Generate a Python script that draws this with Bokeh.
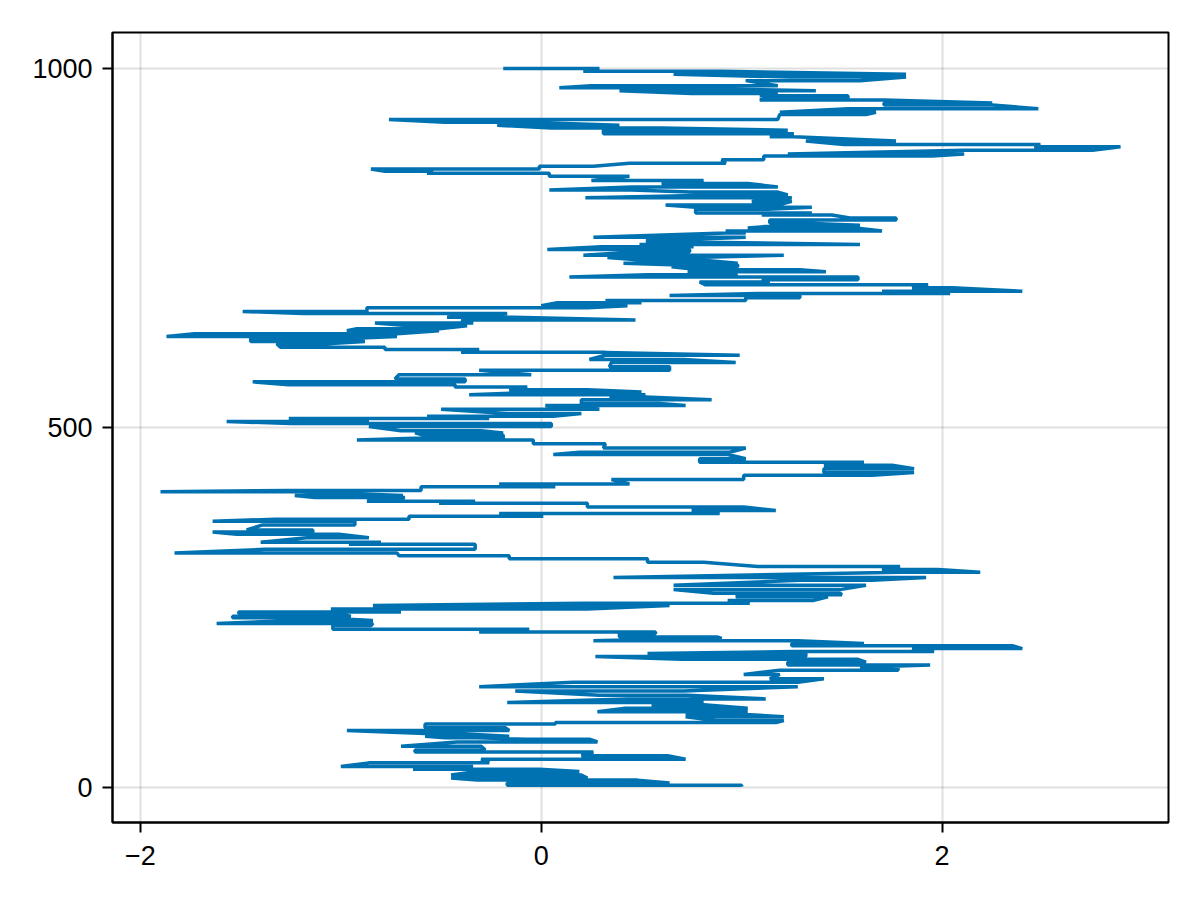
from bokeh.plotting import figure
from bokeh.models import Range1d, FixedTicker
from bokeh.embed import file_html
from bokeh.resources import INLINE

# ---- data (random-walk like trace, y = step index) ----
start_y = 1
start_x = 1.0
walk_y = [3, 6, 10, 13, 17, 22, 25, 29, 34, 39, 44, 49, 52, 57, 63, 67, 69, 71, 75, 79,
          83, 88, 90, 93, 98, 101, 105, 110, 115, 118, 123, 128, 134, 140, 146, 151, 157, 163, 167, 170,
          174, 178, 182, 186, 189, 193, 197, 200, 204, 207, 209, 214, 216, 220, 225, 228, 232, 236, 238, 242,
          244, 248, 253, 256, 260, 265, 268, 270, 275, 281, 288, 292, 299, 303, 307, 313, 318, 322, 326, 331,
          338, 341, 347, 352, 355, 358, 365, 370, 373, 377, 381, 385, 390, 395, 398, 403, 406, 411, 413, 418,
          422, 428, 434, 438, 443, 448, 452, 457, 463, 466, 472, 478, 483, 486, 490, 493, 496, 502, 506, 509,
          513, 516, 520, 526, 531, 534, 539, 543, 546, 550, 553, 557, 560, 564, 568, 574, 580, 585, 591, 595,
          601, 605, 609, 612, 617, 620, 624, 627, 631, 635, 638, 642, 646, 650, 654, 659, 662, 667, 670, 674,
          677, 681, 684, 687, 690, 695, 699, 703, 706, 710, 713, 717, 720, 724, 727, 729, 733, 737, 740, 745,
          748, 752, 755, 758, 762, 765, 771, 774, 778, 782, 785, 789, 792, 796, 799, 804, 807, 810, 815, 820,
          824, 828, 831, 835, 840, 844, 850, 854, 857, 860, 864, 868, 873, 878, 881, 886, 891, 894, 899, 905,
          909, 914, 917, 921, 925, 929, 936, 939, 944, 949, 952, 956, 959, 962, 965, 969, 973, 976, 983, 988,
          992, 996, 1000]
walk_lo = [-0.17, -0.17, -0.32, -0.45, -0.45, -0.32, -0.64, -1.0, -0.86, -0.30, 0.20, -0.63, -0.63, -0.70, -0.42, -0.08, -0.48, -0.58, -0.58, -0.97,
           -0.58, -0.58, 0.07, 0.87, 0.72, 0.72, 0.28, 0.42, 0.55, -0.17, 0.43, 0.29, -0.13, -0.31, 0.16, 1.14, 1.01, 1.19, 1.59, 1.23,
           1.23, 0.70, 0.27, 0.53, 1.26, 1.85, 1.25, 1.25, 0.26, 0.71, 0.39, 0.39, -0.31, -1.04, -1.04, -1.62, -1.20, -1.54, -1.54, -1.51,
           -1.51, -1.05, -0.84, 0.22, 0.93, 0.97, 1.02, 0.86, 0.66, 0.66, 1.29, 0.36, 1.79, 1.70, 1.08, 0.53, -0.16, -0.71, -1.83, -1.38,
           -0.96, -1.40, -1.17, -1.52, -1.64, -1.47, -1.39, -1.64, -1.33, -0.66, -0.21, 0.75, 0.23, -0.51, -0.87, -1.13, -1.23, -1.90, -1.26, -0.60,
           -0.21, 0.35, 1.01, 1.41, 1.41, 1.41, 0.79, 0.79, 0.06, 0.19, 0.31, -0.04, -0.92, -0.59, -0.59, -0.63, -0.70, -0.86, -1.25, -1.57,
           -1.26, -0.57, -0.17, -0.50, 0.02, 0.20, 0.20, 0.34, -0.36, 0.00, -0.16, -0.43, -1.26, -1.44, -0.73, -0.71, -0.31, 0.34, 0.35, 0.24,
           0.32, -0.40, -0.78, -1.30, -1.32, -1.45, -1.45, -1.87, -1.73, -0.97, -0.92, -0.66, -0.83, -0.40, -0.47, -1.19, -1.49, -0.87, 0.00, 0.08,
           0.32, 1.02, 0.64, 1.08, 1.70, 1.85, 0.82, 0.79, 1.10, 0.14, 0.53, 0.73, 0.79, 0.65, 0.65, 0.41, 0.51, 0.33, 0.21, 0.49,
           0.03, 0.30, 0.49, 0.53, 0.53, 0.26, 0.92, 0.92, 1.03, 1.21, 1.14, 1.14, 1.54, 1.10, 0.77, 0.77, 0.77, 0.62, 1.05, 0.22,
           0.90, 0.74, 0.04, 0.45, 0.60, 0.25, 0.04, -0.57, -0.78, -0.85, -0.01, 0.44, 0.90, 1.11, 1.23, 2.11, 2.46, 1.51, 1.32, 1.14,
           0.31, 0.31, 0.05, -0.22, -0.48, -0.76, 1.19, 1.19, 1.53, 1.71, 1.71, 1.09, 1.14, 1.09, 0.75, 0.39, 0.09, 0.25, 1.02, 1.24,
           0.66, 0.21, -0.19]
walk_hi = [1.00, 0.64, 0.48, 0.23, 0.20, 0.19, -0.01, -0.34, -0.26, 0.72, 0.63, 0.26, -0.28, -0.30, 0.28, 0.24, -0.32, -0.16, -0.43, -0.16,
           -0.18, 0.07, 1.17, 1.21, 1.21, 1.04, 1.03, 1.03, 0.81, 0.81, 1.12, 0.73, 0.71, 1.28, 1.28, 1.41, 1.19, 1.78, 1.78, 1.94,
           1.62, 1.58, 1.32, 1.32, 1.96, 2.40, 2.35, 1.61, 1.28, 0.90, 0.88, 0.57, 0.57, -0.06, -0.85, -0.84, -0.84, -1.11, -0.95, -1.04,
           -0.70, 0.23, 0.64, 1.04, 1.36, 1.43, 1.50, 1.49, 1.49, 1.62, 1.65, 1.92, 2.19, 1.98, 1.79, 0.81, 0.53, -0.16, -0.72, -0.33,
           -0.33, -0.80, -0.86, -1.01, -1.14, -1.14, -0.93, -0.93, -0.66, 0.01, 0.89, 1.17, 1.01, 0.23, -0.33, -0.68, -0.69, -1.20, -0.60, 0.07,
           0.44, 1.01, 1.65, 1.86, 1.86, 1.75, 1.61, 1.02, 0.93, 0.94, 1.02, 0.32, -0.04, -0.19, -0.19, -0.19, -0.30, 0.05, 0.05, -0.86,
           -0.26, 0.06, 0.20, 0.29, 0.72, 0.59, 0.85, 0.52, 0.52, 0.50, 0.23, -0.07, -0.43, -0.38, -0.38, -0.05, 0.64, 0.64, 0.97, 0.71,
           0.99, 0.32, -0.31, -0.78, -1.07, -0.88, -0.99, -0.72, -0.72, -0.51, -0.51, -0.37, -0.34, 0.47, -0.14, -0.17, -0.87, 0.23, 0.43, 0.50,
           1.02, 1.29, 1.29, 2.04, 2.40, 2.05, 1.93, 1.14, 1.58, 1.58, 0.98, 1.42, 1.29, 0.98, 0.98, 0.98, 0.81, 0.76, 1.21, 0.74,
           0.74, 0.76, 1.59, 0.90, 0.73, 1.02, 1.02, 1.70, 1.57, 1.59, 1.29, 1.77, 1.77, 1.45, 1.35, 1.13, 1.35, 1.18, 1.25, 1.25,
           1.23, 1.18, 0.45, 1.18, 1.03, 0.81, 0.44, 0.04, -0.54, -0.01, 0.26, 0.92, 1.11, 1.95, 2.11, 2.75, 2.89, 2.49, 1.77, 1.26,
           1.26, 1.23, 0.60, 0.39, -0.08, 1.18, 1.62, 1.67, 2.48, 2.25, 2.25, 1.71, 1.53, 1.53, 1.18, 1.37, 0.50, 1.18, 1.59, 1.82,
           1.82, 0.90, 0.29]

x_ticks = [-2, 0, 2]
y_ticks = [0, 500, 1000]
x_tick_labels = {-2: "\u22122", 0: "0", 2: "2"}
y_tick_labels = {0: "0", 500: "500", 1000: "1000"}

# ---- build the path: visit each stroke, nearest end first ----
path_x = [start_x]
path_y = [start_y]
for yy, lo, hi in zip(walk_y, walk_lo, walk_hi):
    prev = path_x[-1]
    pair = (lo, hi) if abs(prev - lo) <= abs(prev - hi) else (hi, lo)
    for xx in pair:
        path_x.append(xx)
        path_y.append(yy)

xmin, xmax = min(path_x), max(path_x)
ymin, ymax = min(path_y), max(path_y)
xpad = 0.05 * (xmax - xmin)
ypad = 0.05 * (ymax - ymin)

p = figure(width=1184, height=884, output_backend="svg", toolbar_location=None,
           x_range=Range1d(xmin - xpad, xmax + xpad),
           y_range=Range1d(ymin - ypad, ymax + ypad),
           min_border_left=112, min_border_right=16, min_border_top=32, min_border_bottom=62)
p.frame_width = 1056
p.frame_height = 790

p.line(path_x, path_y, line_color="#0072B2", line_width=3.5)

p.background_fill_color = "white"
p.border_fill_color = "white"
p.outline_line_color = "black"
p.outline_line_width = 2
p.outline_line_alpha = 1.0

for ax in (p.xaxis, p.yaxis):
    ax.axis_line_color = "black"
    ax.axis_line_width = 2
    ax.major_tick_line_color = "black"
    ax.major_tick_line_width = 2
    ax.major_tick_out = 10
    ax.major_tick_in = 0
    ax.minor_tick_line_color = None
    ax.major_label_text_font = "Liberation Sans"
    ax.major_label_text_font_size = "27px"
    ax.major_label_text_color = "black"

p.xaxis.ticker = FixedTicker(ticks=x_ticks)
p.yaxis.ticker = FixedTicker(ticks=y_ticks)
p.xaxis.major_label_overrides = x_tick_labels
p.yaxis.major_label_overrides = y_tick_labels
p.xaxis.major_label_standoff = 13
p.yaxis.major_label_standoff = 10

for g in (p.xgrid, p.ygrid):
    g.grid_line_color = "black"
    g.grid_line_alpha = 0.12
    g.grid_line_width = 2
p.xgrid.ticker = FixedTicker(ticks=x_ticks)
p.ygrid.ticker = FixedTicker(ticks=y_ticks)

open("out.html", "w").write(file_html(p, INLINE))
